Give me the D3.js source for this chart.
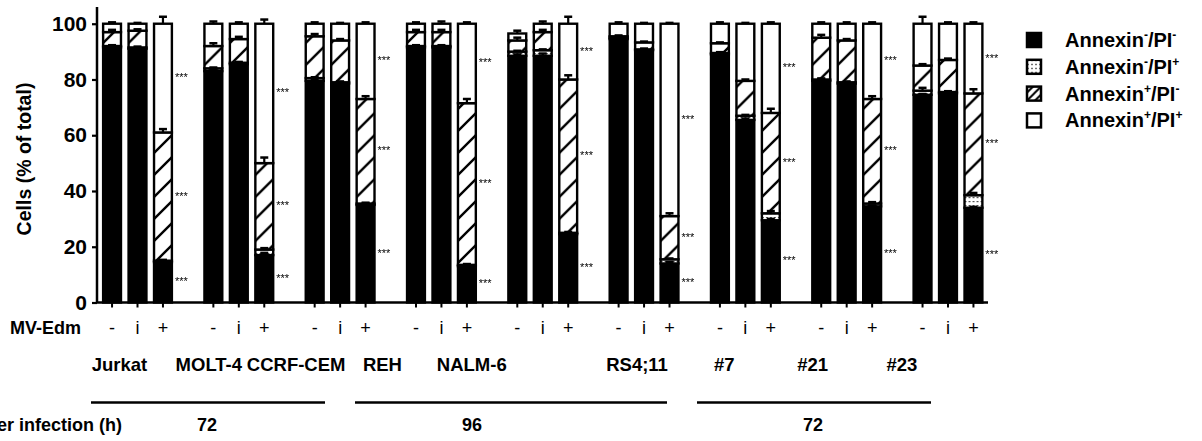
<!DOCTYPE html>
<html>
<head>
<meta charset="utf-8">
<script src="https://cdn.jsdelivr.net/npm/d3@7"></script>
<style>
  body { margin: 0; background: #fff; }
  svg { display: block; font-family: "Liberation Sans", Arial, sans-serif; }
  .stars { filter: grayscale(100%); }
</style>
</head>
<body>
<script>
const groups = ["Jurkat", "MOLT-4", "CCRF-CEM", "REH", "NALM-6", "RS4;11", "#7", "#21", "#23"];
const treatments = ["-", "i", "+"];
const yTicks = [0, 20, 40, 60, 80, 100];

// % of cells, one value per bar (group x treatment)
const annNegPiNeg = [91.5, 91, 14.5, 83, 85.5, 17, 79.5, 78.5, 35, 91.5, 91.5, 13, 88.5, 88.5, 24.5, 94.5, 90.5, 14, 89, 65.5, 29.5, 79.5, 78.5, 34.5, 74.5, 75, 34];
const annNegPiPos = [0.5, 0.5, 0.5, 1, 0.5, 2, 1, 0.5, 0.5, 0.5, 0.5, 0.5, 1.5, 2, 0.5, 0.5, 0.3, 1.5, 0.5, 1.5, 2.5, 0.5, 0.5, 1, 1.5, 0.5, 4.5];
const annPosPiNeg = [5, 6, 46, 8, 8.5, 31, 15, 15, 37.5, 5, 5, 58, 4, 6.5, 55, 0.5, 2.5, 15.5, 3.5, 12.5, 36, 15, 15, 37.5, 9, 11.5, 36.5];
const annPosPiPos = [3, 2.5, 39, 8, 5.5, 50, 4.5, 6, 27, 3, 3, 28.5, 2.5, 3, 20, 4.5, 6.7, 69, 7, 20.5, 32, 5, 6, 27, 15, 13, 25];

// error (SD), drawn upward from each segment top
const errNegNeg = [0.5, 0.3, 0.6, 0.8, 0.5, 0.8, 0.5, 0.3, 0.5, 0.3, 0.3, 0.5, 0.5, 0.8, 0.3, 0.3, 0.3, 0.5, 0.3, 0.5, 0.5, 0.8, 0.3, 0.3, 0.3, 0.3, 0.3];
const errNegPos = [0.3, 0.3, 0.3, 0.3, 0.3, 0.5, 0.3, 0.3, 0.3, 0.3, 0.3, 0.3, 0.3, 0.3, 0.3, 0.3, 0.3, 0.3, 0.3, 0.3, 0.8, 0.3, 0.3, 0.5, 1.0, 0.3, 0.8];
const errPosNeg = [0.8, 0.5, 1.2, 1.0, 0.8, 2.0, 0.8, 0.5, 1.0, 0.8, 0.8, 1.5, 1.0, 0.8, 1.5, 0.3, 0.3, 1.0, 0.3, 0.5, 1.5, 1.0, 0.5, 1.0, 0.5, 0.5, 1.5];
const errPosPos = [0.5, 0.3, 2.5, 0.8, 0.5, 1.5, 0.5, 0.3, 0.5, 0.5, 0.8, 0.5, 1.0, 0.8, 2.5, 0.5, 0.3, 0.3, 0.5, 0.3, 0.5, 0.5, 0.5, 0.5, 2.5, 0.5, 0.5];

const seriesNames = ["Annexin-/PI-", "Annexin-/PI+", "Annexin+/PI-", "Annexin+/PI+"];
const starred = [true, false, true, true]; // *** on infected (+) bars
const timeLabels = ["72", "96", "72"];

// text layout
const nameOffset = [-18, -30, -44, -59, -71, -7, -21, -34, -46];
const timeSpans = [[91, 325], [355, 667], [697, 931]];
const timeLabelX = [207, 472, 813];

const width = 1202, height = 441;
const svg = d3.select("body").append("svg").attr("width", width).attr("height", height);

const y = d3.scaleLinear([0, 106], [302.5, 7]);
const x0 = d3.scaleBand(groups, [86.85, 998.65]);
const x1 = d3.scaleBand(treatments, [0, x0.bandwidth()]).paddingInner(0.22).paddingOuter(0.6);

const defs = svg.append("defs");
function hatch(id, p, sw) {
  defs.append("pattern").attr("id", id).attr("patternUnits", "userSpaceOnUse")
    .attr("width", p).attr("height", p)
    .call(g => g.append("rect").attr("width", p).attr("height", p).attr("fill", "#fff"))
    .append("path")
    .attr("d", `M0,${p} L${p},0 M-3,3 L3,-3 M${p - 3},${p + 3} L${p + 3},${p - 3}`)
    .attr("stroke", "#000").attr("stroke-width", sw);
}
hatch("hatch", 22, 2.4);
hatch("hatchSmall", 8, 2);
const dots = defs.append("pattern").attr("id", "dots").attr("patternUnits", "userSpaceOnUse")
  .attr("width", 4).attr("height", 4);
dots.append("rect").attr("width", 4).attr("height", 4).attr("fill", "#fff");
dots.append("rect").attr("x", 1).attr("y", 1).attr("width", 2).attr("height", 1.2).attr("fill", "#555");

const fills = ["#000", "url(#dots)", "url(#hatch)", "#fff"];
const legendFills = ["#000", "url(#dots)", "url(#hatchSmall)", "#fff"];
const values = [annNegPiNeg, annNegPiPos, annPosPiNeg, annPosPiPos];
const errors = [errNegNeg, errNegPos, errPosNeg, errPosPos];

// one row per bar
const bars = [];
groups.forEach((g, gi) => treatments.forEach((t, ti) => {
  const i = gi * 3 + ti;
  let base = 0;
  const segs = values.map((v, s) => {
    const seg = { s, y0: base, y1: base + v[i], err: errors[s][i] };
    base += v[i];
    return seg;
  });
  bars.push({ g, t, gi, ti, segs });
}));

const barG = svg.append("g").selectAll("g").data(bars).join("g")
  .attr("transform", d => `translate(${x0(d.g) + x1(d.t)},0)`);

barG.selectAll("rect").data(d => d.segs).join("rect")
  .attr("x", 1)
  .attr("width", x1.bandwidth() - 2)
  .attr("y", d => y(d.y1))
  .attr("height", d => y(d.y0) - y(d.y1))
  .attr("fill", d => fills[d.s])
  .attr("stroke", "#000")
  .attr("stroke-width", 2.4);

// error bars
const bw = x1.bandwidth();
barG.selectAll("g.err").data(d => d.segs).join("g").attr("class", "err")
  .each(function (d) {
    const g = d3.select(this);
    g.append("line").attr("x1", bw / 2).attr("x2", bw / 2)
      .attr("y1", y(d.y1)).attr("y2", y(d.y1 + d.err))
      .attr("stroke", "#000").attr("stroke-width", 2.2);
    g.append("line").attr("x1", bw / 2 - 4).attr("x2", bw / 2 + 4)
      .attr("y1", y(d.y1 + d.err)).attr("y2", y(d.y1 + d.err))
      .attr("stroke", "#000").attr("stroke-width", 2.5);
  });

// significance stars
barG.filter(d => d.t === "+").append("g").attr("class", "stars")
  .selectAll("text.star")
  .data(d => d.segs.filter(s => starred[s.s]))
  .join("text").attr("class", "star")
  .attr("x", bw + 2)
  .attr("y", d => y((d.y0 + d.y1) / 2) + 3)
  .attr("font-size", 11).attr("fill", "#000")
  .text("***");

// axes
const yAxis = svg.append("g").attr("transform", "translate(97,0)")
  .call(d3.axisLeft(y).tickValues(yTicks).tickSize(5).tickPadding(5));
yAxis.select(".domain").attr("d", `M0,${y(106)}V${y(0)}`).attr("stroke-width", 2.5);
yAxis.selectAll(".tick line").attr("stroke-width", 2.2);
yAxis.selectAll("text").attr("font-size", 21).attr("font-weight", "bold")
  .attr("font-family", "Liberation Sans, Arial, sans-serif").attr("fill", "#000");

const xAxis = svg.append("g").attr("transform", `translate(0,${y(0)})`);
xAxis.append("line").attr("x1", 96).attr("x2", 988).attr("stroke", "#000").attr("stroke-width", 2.5);
xAxis.selectAll("line.tk").data(bars).join("line").attr("class", "tk")
  .attr("x1", d => x0(d.g) + x1(d.t) + bw / 2).attr("x2", d => x0(d.g) + x1(d.t) + bw / 2)
  .attr("y1", 0).attr("y2", 5).attr("stroke", "#000").attr("stroke-width", 2);

svg.append("text")
  .attr("transform", "translate(31,159) rotate(-90)")
  .attr("text-anchor", "middle")
  .attr("font-size", 19.5).attr("font-weight", "bold")
  .text("Cells (% of total)");

// treatment row
svg.append("text").attr("x", 81).attr("y", 334).attr("text-anchor", "end")
  .attr("font-size", 18).attr("font-weight", "bold").text("MV-Edm");
svg.append("g").selectAll("text").data(bars).join("text")
  .attr("x", d => x0(d.g) + x1(d.t) + bw / 2)
  .attr("y", 334).attr("text-anchor", "middle").attr("font-size", 18)
  .text(d => d.t);

// cell line names
svg.append("g").selectAll("text").data(groups).join("text")
  .attr("x", (d, i) => x0(d) + x0.bandwidth() / 2 + nameOffset[i])
  .attr("y", 371).attr("text-anchor", "middle")
  .attr("font-size", 18.5).attr("font-weight", "bold")
  .text(d => d);

// time after infection
svg.append("g").selectAll("line").data(timeSpans).join("line")
  .attr("x1", d => d[0]).attr("x2", d => d[1])
  .attr("y1", 402.5).attr("y2", 402.5)
  .attr("stroke", "#000").attr("stroke-width", 2.4);
svg.append("g").selectAll("text").data(timeLabels).join("text")
  .attr("x", (d, i) => timeLabelX[i]).attr("y", 431)
  .attr("text-anchor", "middle").attr("font-size", 18).attr("font-weight", "bold")
  .text(d => d);
svg.append("text").attr("x", 122).attr("y", 431).attr("text-anchor", "end")
  .attr("font-size", 18).attr("font-weight", "bold").text("Time after infection (h)");

// legend
const leg = svg.append("g").attr("transform", "translate(1026,32)")
  .selectAll("g").data(seriesNames).join("g")
  .attr("transform", (d, i) => `translate(0,${i * 26.8})`);
leg.append("rect").attr("x", 1).attr("y", 1).attr("width", 14).attr("height", 14)
  .attr("fill", (d, i) => legendFills[i]).attr("stroke", "#000").attr("stroke-width", 2.5);
leg.append("text").attr("x", 39).attr("y", 15)
  .attr("font-size", 20).attr("font-weight", "bold")
  .each(function (d) {
    const t = d3.select(this);
    const m = d.match(/Annexin(.)\/PI(.)/);
    t.append("tspan").text("Annexin");
    t.append("tspan").attr("font-size", 12).attr("dy", -8).text(m[1]);
    t.append("tspan").attr("dy", 8).text("/PI");
    t.append("tspan").attr("font-size", 12).attr("dy", -8).text(m[2]);
  });
</script>
</body>
</html>
